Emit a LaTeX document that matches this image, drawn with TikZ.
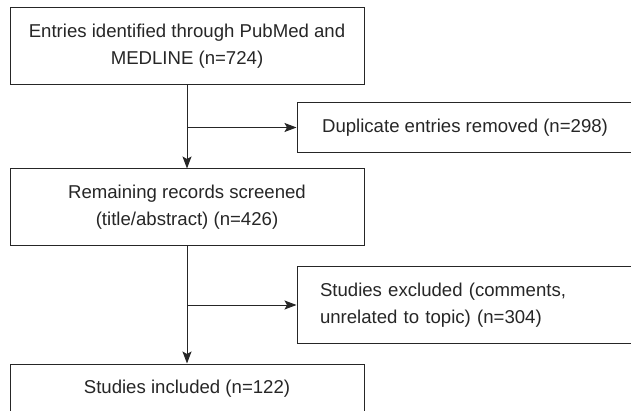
\documentclass[tikz,border=0pt]{standalone}
\usepackage{fontspec}
\setmainfont{Liberation Sans}
\usetikzlibrary{arrows.meta}
\begin{document}
\begin{tikzpicture}[x=1pt,y=-1pt,
  box/.style={draw=black!85,line width=1pt,inner sep=0pt,align=center,
    font=\fontsize{18.6}{27}\selectfont,text=black!85},
  conn/.style={draw=black!85,line width=1pt,-{Stealth[length=12pt,width=9pt,inset=2.5pt]}}]
\clip (0,0) rectangle (631,411);
\useasboundingbox (0,0) rectangle (631,411);
\node[box,minimum width=354pt,minimum height=77pt] (b1) at (187,46.5)
  {Entries identified through PubMed and\\MEDLINE (n=724)};
\node[box,minimum width=336pt,minimum height=50pt] (b2) at (465,127.5)
  {Duplicate entries removed (n=298)};
\node[box,minimum width=354pt,minimum height=77pt] (b3) at (187,207.5)
  {Remaining records screened\\(title/abstract) (n=426)};
\node[box,minimum height=77pt,text width=290pt,inner xsep=23pt,align=left] (b4) at (465,305)
  {Studies excluded (comments,\\unrelated to topic) (n=304)};
\node[box,minimum width=354pt,minimum height=49pt] (b5) at (187,388.5)
  {Studies included (n=122)};
\coordinate (j1) at (b1.south |- b2.west);
\coordinate (j2) at (b3.south |- b4.west);
\draw[conn] (b1.south) -- (b3.north);
\draw[conn] (j1) -- (b2.west);
\draw[conn] (b3.south) -- (b5.north);
\draw[conn] (j2) -- (b4.west);
\end{tikzpicture}
\end{document}
